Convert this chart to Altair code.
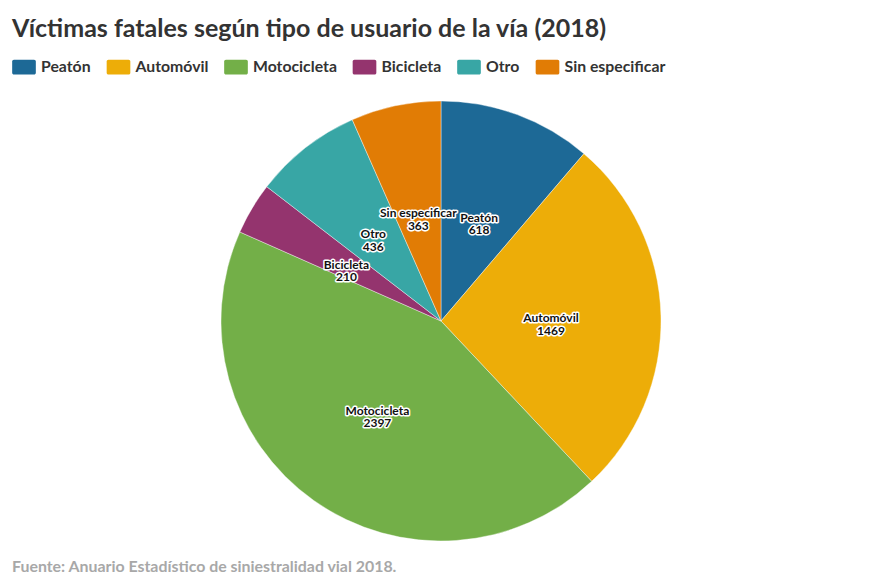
import altair as alt
import pandas as pd

categories = ["Peatón", "Automóvil", "Motocicleta", "Bicicleta", "Otro", "Sin especificar"]
values = [618, 1469, 2397, 210, 436, 363]
colors = ["#1d6996", "#edad08", "#73af48", "#94346e", "#38a6a5", "#e17c05"]

title_text = "Víctimas fatales según tipo de usuario de la vía (2018)"
source_text = "Fuente: Anuario Estadístico de siniestralidad vial 2018."

FONT = "Lato"

df = pd.DataFrame({
    "cat": categories,
    "value": values,
    "idx": list(range(len(categories))),
    "label": [f"{c}\n{v}" for c, v in zip(categories, values)],
})

CX, CY, R = 433, 313, 220

symbol_path = ("M-0.85,-0.62 H0.85 A0.15,0.15 0 0 1 1,-0.47 V0.47 A0.15,0.15 0 0 1 0.85,0.62 "
               "H-0.85 A0.15,0.15 0 0 1 -1,0.47 V-0.47 A0.15,0.15 0 0 1 -0.85,-0.62 Z")

color = alt.Color(
    "cat:N",
    scale=alt.Scale(domain=categories, range=colors),
    legend=alt.Legend(
        title=None, orient="none", legendX=4, legendY=47, direction="horizontal",
        columns=6, symbolType=symbol_path, symbolSize=560, symbolStrokeWidth=0,
        symbolOpacity=1, labelFont=FONT, labelFontSize=15.8, labelFontWeight="bold",
        labelColor="#333", labelOffset=5, columnPadding=15.5, labelLimit=300,
    ),
    sort=categories,
)

base = alt.Chart(df)

pie = base.mark_arc(radius=R, stroke="#ffffff", strokeWidth=0.4).encode(
    theta=alt.Theta("value:Q", stack=True),
    color=color,
    order=alt.Order("idx:Q"),
    x=alt.value(CX), y=alt.value(CY),
)

text_kw = dict(radius=R / 2, font=FONT, fontSize=12, fontWeight="bold",
               lineBreak="\n", lineHeight=12.5)

halo = base.mark_text(stroke="white", strokeWidth=3, strokeJoin="round",
                      fill="white", **text_kw).encode(
    theta=alt.Theta("value:Q", stack=True),
    order=alt.Order("idx:Q"),
    text="label:N",
    x=alt.value(CX), y=alt.value(CY),
)

labels = base.mark_text(fill="#111", **text_kw).encode(
    theta=alt.Theta("value:Q", stack=True),
    order=alt.Order("idx:Q"),
    text="label:N",
    x=alt.value(CX), y=alt.value(CY),
)

tdf = pd.DataFrame({"t": [title_text]})
title = alt.Chart(tdf).mark_text(font=FONT, fontSize=25, fontWeight="bold", color="#333",
                                 align="left", baseline="alphabetic").encode(
    text="t:N", x=alt.value(4), y=alt.value(28.5))

sdf = pd.DataFrame({"t": [source_text]})
source = alt.Chart(sdf).mark_text(font=FONT, fontSize=15.9, fontWeight="bold", color="#a8a8a8",
                                  align="left", baseline="alphabetic").encode(
    text="t:N", x=alt.value(4), y=alt.value(564))

chart = alt.layer(pie, halo, labels, title, source).properties(
    width=863, height=567, autosize=alt.AutoSizeParams(type="none"), padding=0,
).configure_view(strokeWidth=0)

chart.save("out.html", embed_options={"renderer": "svg", "actions": False})
